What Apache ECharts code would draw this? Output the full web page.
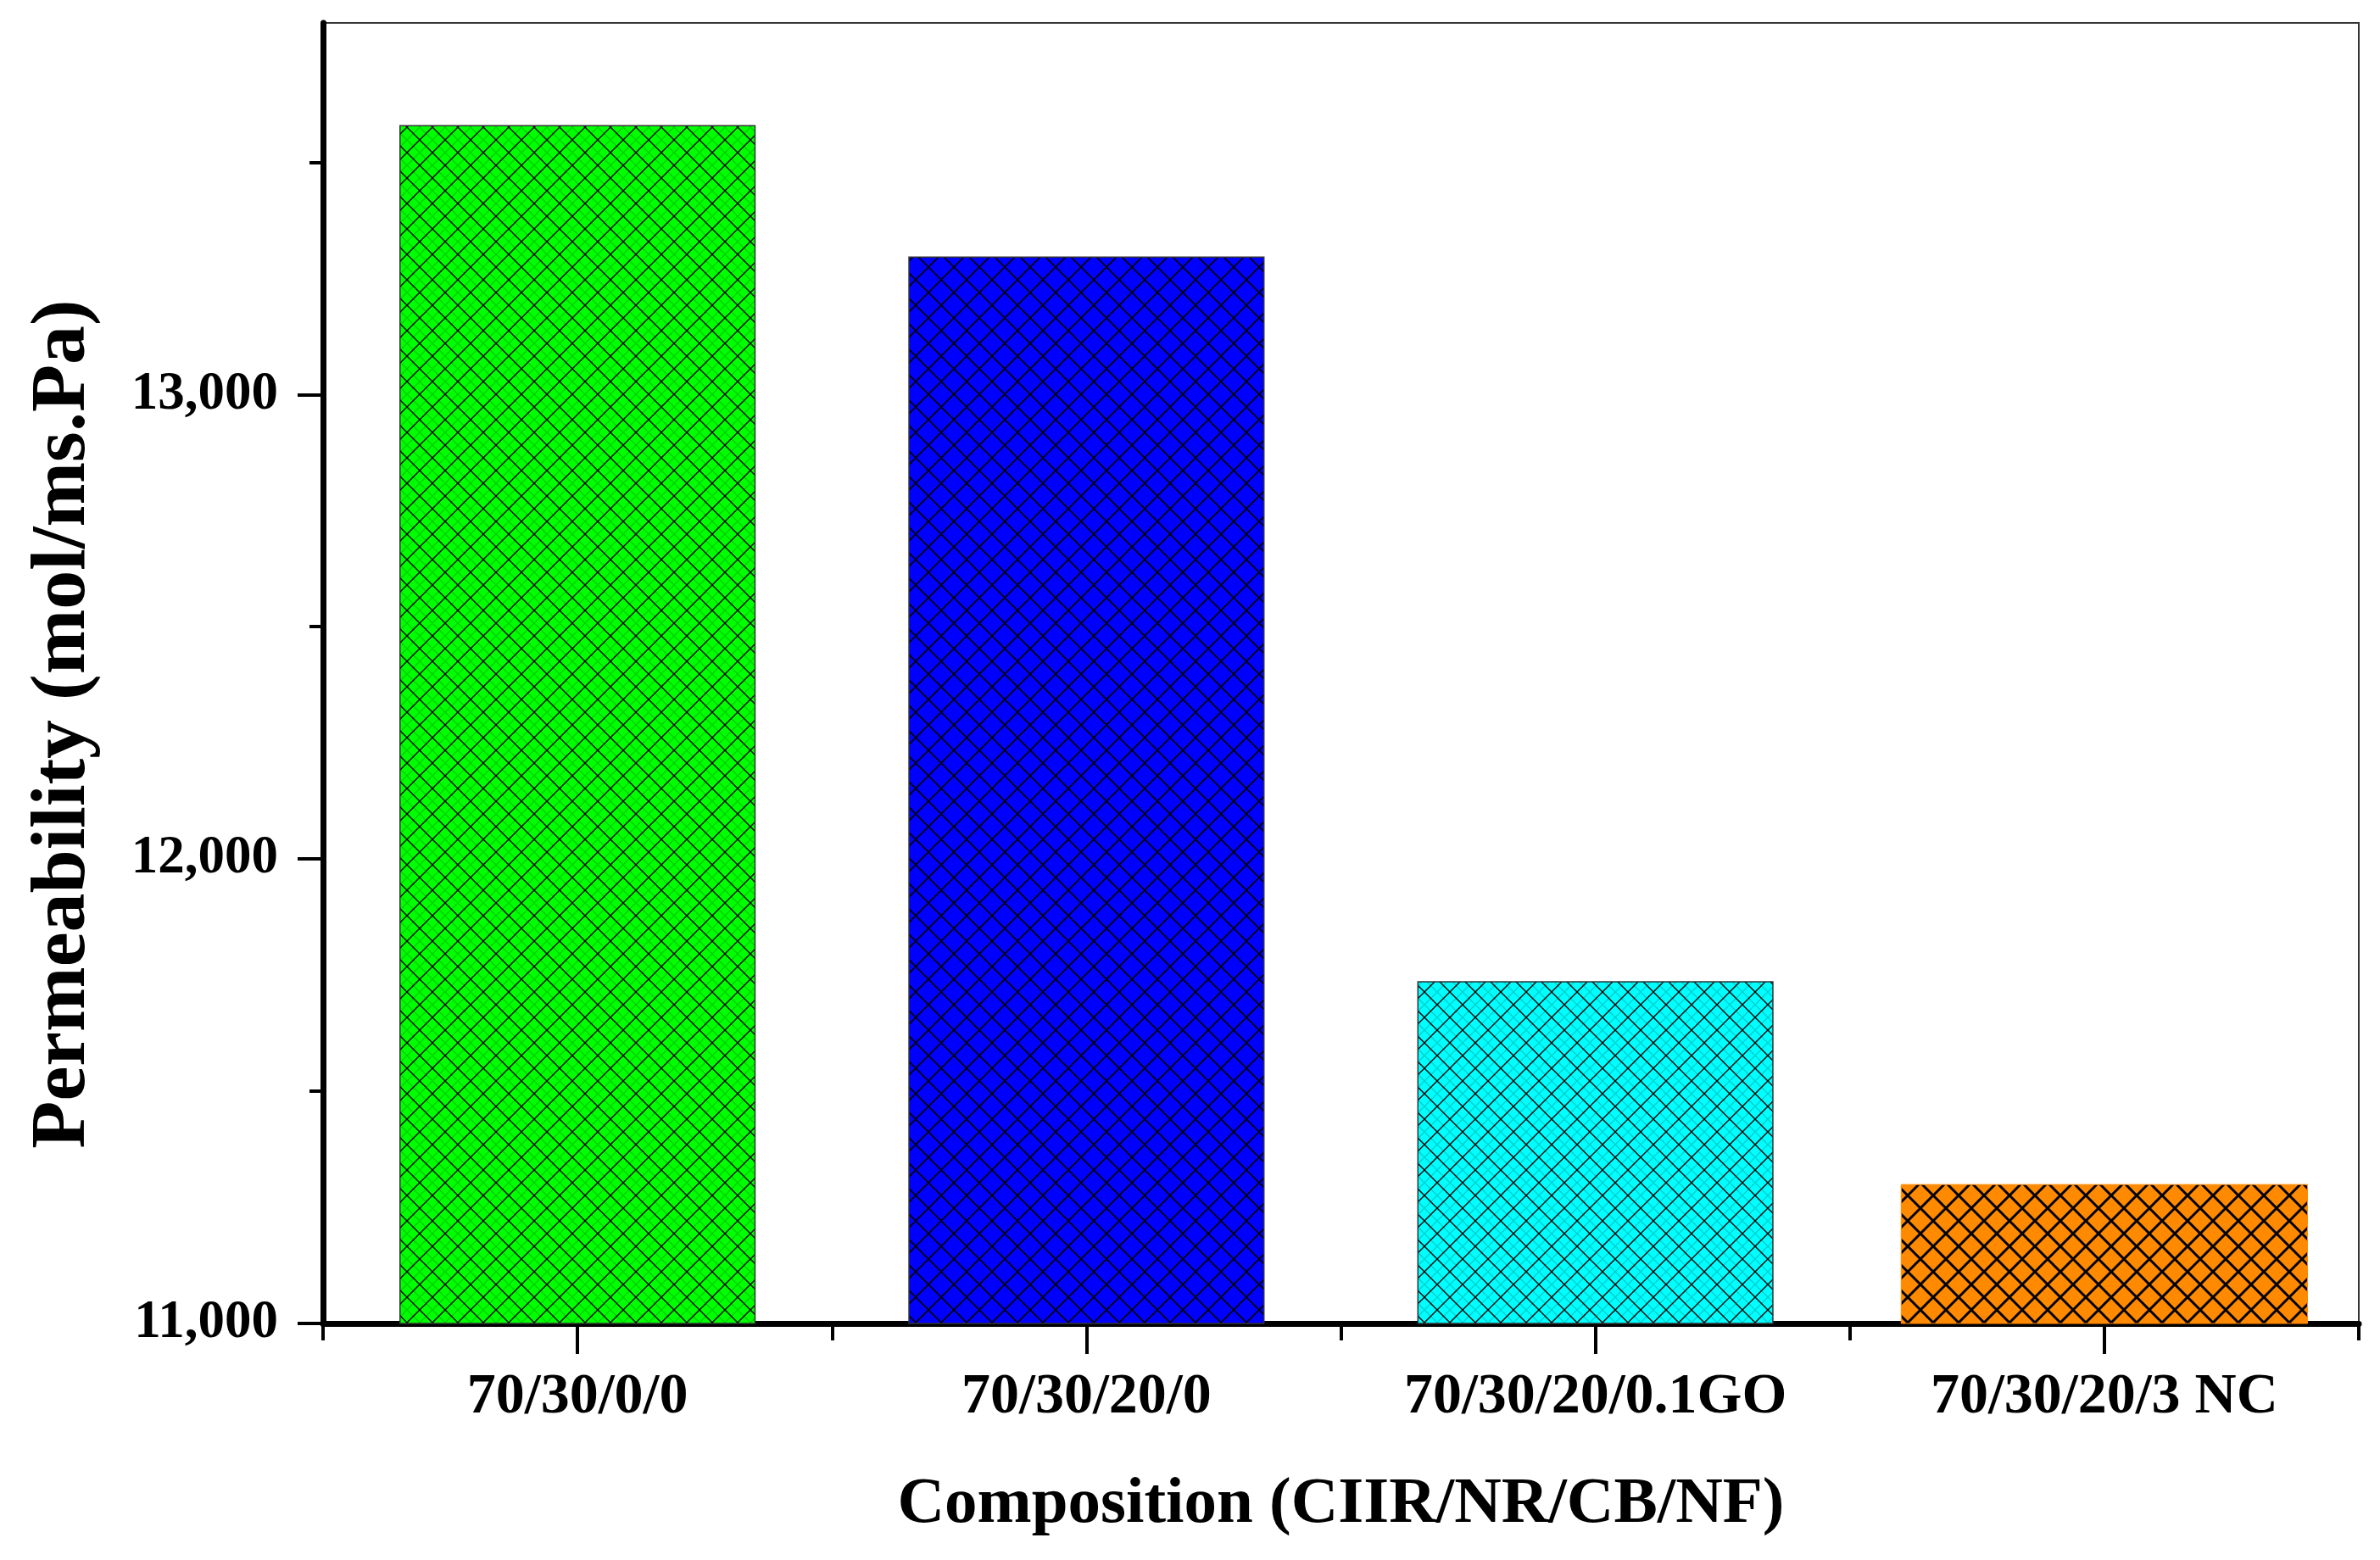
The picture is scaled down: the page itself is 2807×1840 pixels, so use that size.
<!DOCTYPE html>
<html>
<head>
<meta charset="utf-8">
<script src="https://cdn.jsdelivr.net/npm/echarts@6/dist/echarts.min.js"></script>
<style>
  html, body { margin: 0; padding: 0; background: #fff; }
  #main { width: 2807px; height: 1840px; }
</style>
</head>
<body>
<div id="main"></div>
<script>
// data
var categories = ['70/30/0/0', '70/30/20/0', '70/30/20/0.1GO', '70/30/20/3 NC'];
var permeability = [13580, 13297, 11737, 11300];
var barColors = ['#00ff00', '#0000ff', '#00ffff', '#ff8a00'];
var majorTicks = [11000, 12000, 13000];
var minorTicks = [11500, 12500, 13500];

// crosshatch fill, like the Origin pattern
function hatch(base, lineWidth, faint) {
    var s = 30;
    var c = document.createElement('canvas');
    c.width = s; c.height = s;
    var ctx = c.getContext('2d');
    ctx.fillStyle = base;
    ctx.fillRect(0, 0, s, s);
    function cross(off, color, w) {
        ctx.strokeStyle = color;
        ctx.lineWidth = w;
        ctx.beginPath();
        for (var k = -2; k <= 3; k++) {
            var a = k * s + off;
            ctx.moveTo(a, 0); ctx.lineTo(a - s, s);
            ctx.moveTo(a, 0); ctx.lineTo(a + s, s);
        }
        ctx.stroke();
    }
    if (faint) cross(s / 2, 'rgba(0,0,0,0.18)', 1.5);
    cross(0, '#000', lineWidth);
    return { image: c, repeat: 'repeat' };
}

var fills = [
    hatch(barColors[0], 1.4, true),
    hatch(barColors[1], 1.6, false),
    hatch(barColors[2], 1.4, true),
    hatch(barColors[3], 3, false)
];

var mainData = permeability.map(function (v, i) {
    if (i === 3) return '-';
    return { value: v, itemStyle: { color: fills[i] } };
});
var lastData = permeability.map(function (v, i) {
    if (i !== 3) return '-';
    return { value: v, itemStyle: { color: fills[i] } };
});

var font = 'Liberation Serif';
var myChart = echarts.init(document.getElementById('main'));

var option = {
    backgroundColor: '#fff',
    animation: false,
    grid: {
        left: 381, right: 25, top: 27, bottom: 279,
        outerBoundsMode: 'none',
        containLabel: false,
        show: true, borderColor: '#333', borderWidth: 2
    },
    xAxis: [
        {
            type: 'category',
            data: categories,
            position: 'bottom',
            axisLine: { lineStyle: { color: '#000', width: 7 } },
            axisTick: { show: true, alignWithLabel: true, length: 36, lineStyle: { color: '#000', width: 4 } },
            axisLabel: {
                margin: 53, color: '#000',
                fontFamily: font, fontWeight: 'bold', fontSize: 68
            },
            name: 'Composition (CIIR/NR/CB/NF)',
            nameLocation: 'middle',
            nameGap: 176,
            nameTextStyle: { color: '#000', fontFamily: font, fontWeight: 'bold', fontSize: 77 }
        },
        {
            type: 'category',
            data: categories,
            position: 'bottom',
            axisLine: { show: false },
            axisTick: { show: true, length: 20, lineStyle: { color: '#000', width: 4 } },
            axisLabel: { show: false }
        }
    ],
    yAxis: [
        {
            type: 'value',
            min: 11000,
            max: 13800,
            interval: 1000,
            splitLine: { show: false },
            axisLine: { show: true, lineStyle: { color: '#000', width: 7 } },
            axisTick: { show: true, length: 30, customValues: majorTicks, lineStyle: { color: '#000', width: 4 } },
            axisLabel: {
                margin: 53, color: '#000', customValues: majorTicks,
                fontFamily: font, fontWeight: 'bold', fontSize: 63,
                formatter: function (v) { return v.toLocaleString('en-US'); }
            }
        },
        {
            type: 'value',
            min: 11000,
            max: 13800,
            position: 'left',
            splitLine: { show: false },
            axisLine: { show: false },
            axisTick: { show: true, length: 16, customValues: minorTicks, lineStyle: { color: '#000', width: 4 } },
            axisLabel: { show: false }
        }
    ],
    graphic: [{
        type: 'text',
        x: 75, y: 854,
        rotation: Math.PI / 2,
        style: {
            text: 'Permeability (mol/ms.Pa)',
            fill: '#000',
            font: 'bold 92px "Liberation Serif"',
            textAlign: 'center',
            textVerticalAlign: 'middle'
        }
    }],
    series: [
        {
            type: 'bar',
            xAxisIndex: 0,
            yAxisIndex: 0,
            barWidth: '70%',
            data: mainData,
            itemStyle: { borderColor: '#333', borderWidth: 1.5 }
        },
        {
            type: 'bar',
            xAxisIndex: 1,
            yAxisIndex: 0,
            barWidth: '80%',
            data: lastData,
            itemStyle: { borderColor: '#ff8a00', borderWidth: 1 }
        }
    ]
};

myChart.setOption(option);
</script>
</body>
</html>
